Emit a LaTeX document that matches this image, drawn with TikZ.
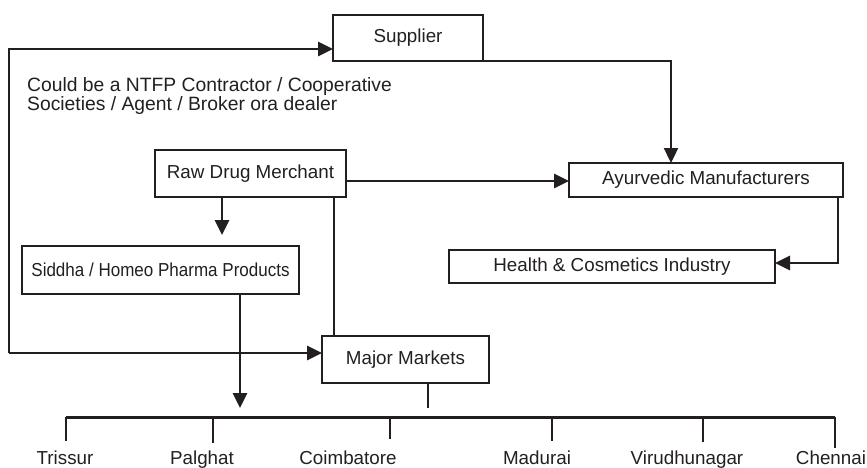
\documentclass[tikz,border=0pt]{standalone}
\usepackage{fontspec}
\setmainfont{Liberation Sans}
\usetikzlibrary{arrows.meta}
\definecolor{ink}{RGB}{35,31,32}
\begin{document}
\begin{tikzpicture}[x=1pt,y=-1pt,
  font=\fontsize{18.8}{18}\selectfont,
  every node/.style={text=ink},
  box/.style={draw=ink,line width=2.2pt,inner sep=0pt,outer sep=0pt,anchor=north west},
  conn/.style={draw=ink,line width=2.8pt},
  tick/.style={draw=ink,line width=1.5pt},
  arr/.style={conn,-{Triangle[length=15pt,width=14pt]}},
  town/.style={anchor=base}]
\useasboundingbox (0,0) rectangle (867,467);
% boxes
\node[box,minimum width=150pt,minimum height=46pt] (sup) at (333,15) {Supplier};
\node[box,minimum width=191pt,minimum height=47pt] (rdm) at (155,150) {Raw Drug Merchant};
\node[box,minimum width=274pt,minimum height=34pt] (ayu) at (569,163) {Ayurvedic Manufacturers};
\node[box,minimum width=277pt,minimum height=48pt] (sid) at (22,246) {\scalebox{0.905}[1]{Siddha / Homeo Pharma Products}};
\node[box,minimum width=326pt,minimum height=33pt] (hea) at (449,250) {Health \& Cosmetics Industry};
\node[box,minimum width=167pt,minimum height=47pt] (mm) at (322,336) {Major Markets};
% note text
\node[anchor=north west,align=left,inner sep=0pt,font=\fontsize{19.3}{17.5}\selectfont] (note) at (27,77)
  {Could be a NTFP Contractor / Cooperative\\Societies / Agent / Broker ora dealer};
% coordinates
\coordinate (lt) at (9,49);
\coordinate (lb) at (9,353);
\coordinate (rdmR) at (346,181);
\coordinate (rdmD) at (222,197);
\coordinate (rdmV) at (334,197);
\coordinate (supD) at (671,61);
\coordinate (ayuD) at (838,197);
\coordinate (ayuC) at (838,263);
\coordinate (sidD) at (240,294);
\coordinate (sidT) at (240,408);
\coordinate (mmD) at (428,383);
\coordinate (mmT) at (428,408);
\coordinate (barL) at (66,417);
\coordinate (barR) at (835,417);
% connectors
\draw[arr] (lb) -- (lt) -- (lt -| sup.west);
\draw[arr] (lb) -- (lb -| mm.west);
\draw[arr] (rdmR) -- (rdmR -| ayu.west);
\draw[arr] (rdmD) -- (rdmD |- 0,235);
\draw[conn] (rdmV) -- (rdmV |- mm.north);
\draw[arr,line width=2.3pt] (sup.south east) -- (supD) -- (supD |- ayu.north);
\draw[arr] (ayuD) -- (ayuC) -- (ayuC -| hea.east);
\draw[arr] (sidD) -- (sidT);
\draw[conn] (mmD) -- (mmT);
\draw[conn,line width=3pt] (barL) -- (barR);
% towns
\node[town] (t1) at (65,464) {Trissur};
\node[town] (t2) at (202,464) {Palghat};
\node[town] (t3) at (348,464) {Coimbatore};
\node[town] (t4) at (537,464) {Madurai};
\node[town] (t5) at (687,464) {Virudhunagar};
\node[town] (t6) at (831,464) {Chennai};
\draw[tick] (66,417) -- (66,441);
\draw[tick] (213,417) -- (213,443);
\draw[tick] (390,417) -- (390,439);
\draw[tick] (552,417) -- (552,441);
\draw[tick] (703,417) -- (703,442);
\draw[tick] (835,417) -- (835,448);
\end{tikzpicture}
\end{document}
